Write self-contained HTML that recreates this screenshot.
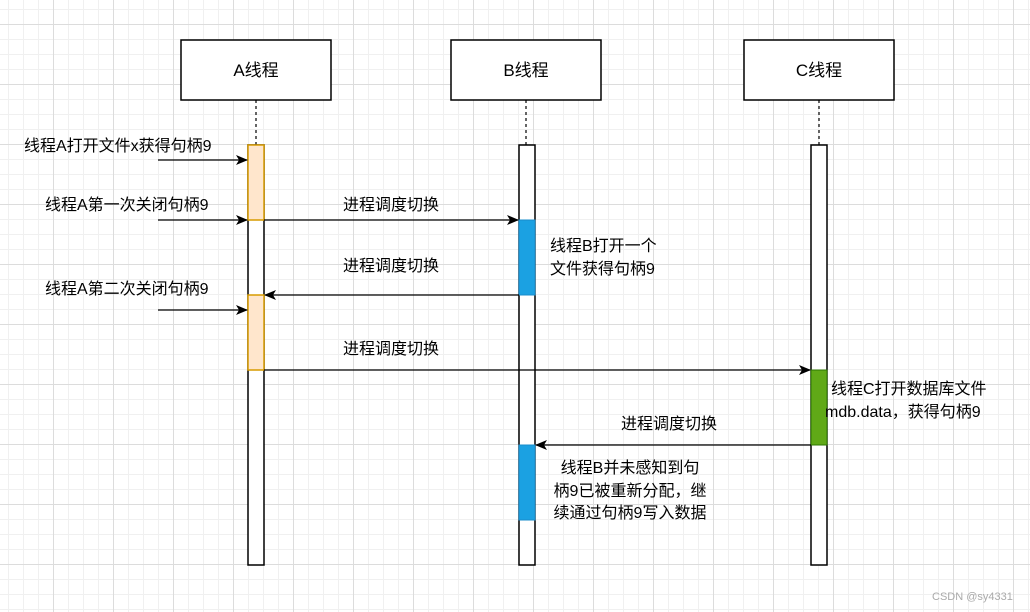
<!DOCTYPE html>
<html><head><meta charset="utf-8"><style>
body{margin:0;width:1030px;height:612px;overflow:hidden;background:#fff;
background-image:
linear-gradient(to right,#dcdcdc 1px,transparent 1px),
linear-gradient(to bottom,#dcdcdc 1px,transparent 1px),
linear-gradient(to right,#f0f0f0 1px,transparent 1px),
linear-gradient(to bottom,#f0f0f0 1px,transparent 1px);
background-size:60px 60px,60px 60px,15px 15px,15px 15px;
background-position:53px 24px,53px 24px,8px 9px,8px 9px;
font-family:"Liberation Sans","Noto Sans CJK SC",sans-serif;}
svg{position:absolute;left:0;top:0}
svg text{font-family:"Liberation Sans","Noto Sans CJK SC",sans-serif;font-size:16px;fill:#000}
</style></head><body>
<svg width="1030" height="612" viewBox="0 0 1030 612">
<defs><marker id="ar" markerWidth="12" markerHeight="10" refX="11" refY="5" orient="auto" markerUnits="userSpaceOnUse"><path d="M0,0 L12,5 L0,10 L3,5 Z" fill="#000"/></marker></defs>
<g stroke="#000" stroke-width="1.5" fill="#fff">
<rect x="181" y="40" width="150" height="60"/>
<rect x="451" y="40" width="150" height="60"/>
<rect x="744" y="40" width="150" height="60"/>
</g>
<g stroke="#000" stroke-width="1.2" stroke-dasharray="3,3">
<line x1="256" y1="100" x2="256" y2="145"/>
<line x1="526" y1="100" x2="526" y2="145"/>
<line x1="819" y1="100" x2="819" y2="145"/>
</g>
<g stroke="#000" stroke-width="1.5" fill="#fff">
<rect x="248" y="145" width="16" height="420"/>
<rect x="519" y="145" width="16" height="420"/>
<rect x="811" y="145" width="16" height="420"/>
</g>
<g stroke="#d79b00" stroke-width="1.5" fill="#ffe6cc">
<rect x="248" y="145" width="16" height="75"/>
<rect x="248" y="295" width="16" height="75"/>
</g>
<g fill="#1ba1e2" stroke="#1a8ccb">
<rect x="519" y="220" width="16" height="75"/>
<rect x="519" y="445" width="16" height="75"/>
</g>
<rect x="811" y="370" width="16" height="75" fill="#60a917" stroke="#2d7600"/>
<g stroke="#000" stroke-width="1.3" marker-end="url(#ar)">
<line x1="158" y1="160" x2="247" y2="160"/>
<line x1="158" y1="220" x2="247" y2="220"/>
<line x1="264" y1="220" x2="518" y2="220"/>
<line x1="519" y1="295" x2="265" y2="295"/>
<line x1="158" y1="310" x2="247" y2="310"/>
<line x1="264" y1="370" x2="810" y2="370"/>
<line x1="811" y1="445" x2="536" y2="445"/>
</g>
<g font-size="18">
<text x="256" y="76" text-anchor="middle" style="font-size:17px">A线程</text>
<text x="526" y="76" text-anchor="middle" style="font-size:17px">B线程</text>
<text x="819" y="76" text-anchor="middle" style="font-size:17px">C线程</text>
</g>
<text x="24" y="151">线程A打开文件x获得句柄9</text>
<text x="45" y="210">线程A第一次关闭句柄9</text>
<text x="45" y="294">线程A第二次关闭句柄9</text>
<text x="391" y="210" text-anchor="middle">进程调度切换</text>
<text x="391" y="271" text-anchor="middle">进程调度切换</text>
<text x="391" y="354" text-anchor="middle">进程调度切换</text>
<text x="669" y="429" text-anchor="middle">进程调度切换</text>
<text x="550" y="251">线程B打开一个</text>
<text x="550" y="274">文件获得句柄9</text>
<text x="831" y="394">线程C打开数据库文件</text>
<text x="825" y="417">mdb.data，获得句柄9</text>
<text x="630" y="473" text-anchor="middle">线程B并未感知到句</text>
<text x="630" y="496" text-anchor="middle">柄9已被重新分配，继</text>
<text x="630" y="518" text-anchor="middle">续通过句柄9写入数据</text>
<text x="932" y="600" style="font-size:11px;fill:#aaa">CSDN @sy4331</text>
</svg>
</body></html>
